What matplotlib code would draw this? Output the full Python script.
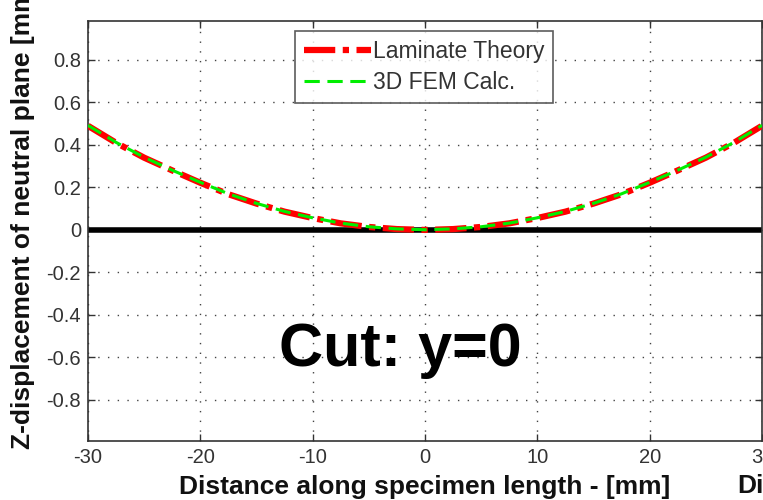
import numpy as np
import matplotlib.pyplot as plt

plt.rcParams['font.family'] = ['Liberation Sans', 'DejaVu Sans']
plt.rcParams['axes.unicode_minus'] = False

# distance along specimen [mm]
x_pos = [-30, -27.5, -25, -22.5, -20, -17.5, -15, -12.5, -10, -7.5, -5, -2.5, 0,
         2.5, 5, 7.5, 10, 12.5, 15, 17.5, 20, 22.5, 25, 27.5, 30]
# Z-displacement [mm]
lam_theory = [0.49, 0.41, 0.34, 0.28, 0.222, 0.168, 0.124, 0.086, 0.056, 0.031, 0.014, 0.004, 0.0,
              0.004, 0.014, 0.031, 0.056, 0.086, 0.124, 0.168, 0.222, 0.28, 0.34, 0.41, 0.49]
fem_calc = [0.492, 0.412, 0.342, 0.281, 0.224, 0.17, 0.125, 0.087, 0.057, 0.032, 0.015, 0.005, 0.001,
            0.005, 0.015, 0.032, 0.057, 0.087, 0.125, 0.17, 0.224, 0.281, 0.342, 0.412, 0.492]

xticks = [-30, -20, -10, 0, 10, 20, 30]
yticks = [-0.8, -0.6, -0.4, -0.2, 0, 0.2, 0.4, 0.6, 0.8]
yticklabels = ['-0.8', '-0.6', '-0.4', '-0.2', '0', '0.2', '0.4', '0.6', '0.8']

fig = plt.figure(figsize=(7.63, 5.0), dpi=100)
ax = fig.add_axes([0.1153, 0.118, 0.8834, 0.84])

ax.axhline(0, color='black', lw=4, zorder=2)
ax.plot(x_pos, lam_theory, color='red', lw=4.5, ls=(0, (5, 1.2, 1, 1.2)),
        label='Laminate Theory', zorder=3)
ax.plot(x_pos, fem_calc, color='#00ee00', lw=2.2, ls=(0, (5, 2.5)),
        label='3D FEM Calc.', zorder=4)

ax.set_xlim(-30, 30)
ax.set_ylim(-0.993, 0.983)
ax.set_xticks(xticks)
ax.set_yticks(yticks)
ax.set_yticklabels(yticklabels)
ax.tick_params(direction='in', top=True, right=True, length=5, width=1,
               labelsize=14.5, labelcolor='#333333', color='#333333', pad=5)
ax.grid(True, color='#444444', ls=(0, (1, 6)), lw=1)
for s in ax.spines.values():
    s.set_color('#333333')
    s.set_linewidth(1.2)

ax.set_xlabel('Distance along specimen length - [mm]', fontsize=19,
              fontweight='bold', color='#111111', labelpad=6)
ax.set_ylabel('Z-displacement of neutral plane [mm]', fontsize=19,
              fontweight='bold', color='#111111')
ax.yaxis.set_label_coords(-0.079, 0.54)

ax.text(0.464, 0.215, 'Cut: y=0', transform=ax.transAxes, fontsize=44,
        fontweight='bold', ha='center', va='center', zorder=5)

leg = ax.legend(loc='upper left', bbox_to_anchor=(0.307, 0.976), borderaxespad=0,
                fontsize=16.5, frameon=True, fancybox=False, handlelength=2.9,
                handletextpad=0.1, borderpad=0.4, labelspacing=0.35)
leg.get_frame().set_edgecolor('#333333')
leg.get_frame().set_linewidth(1.2)
for t in leg.get_texts():
    t.set_color('#333333')

fig.text(0.966, 0.014, 'Di', fontsize=19, fontweight='bold', color='#111111')

fig.savefig('out.png', dpi=100)
